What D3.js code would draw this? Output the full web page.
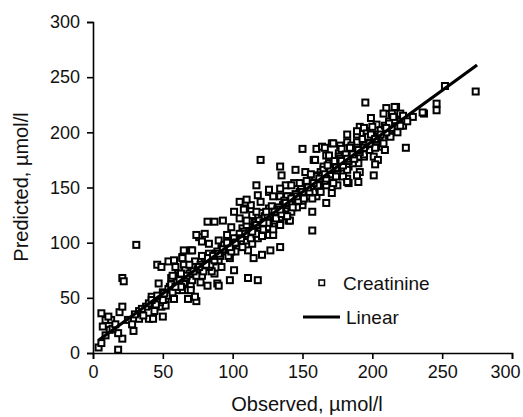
<!DOCTYPE html>
<html>
<head>
<meta charset="utf-8">
<script src="https://d3js.org/d3.v7.min.js"></script>
<style>
  body { margin: 0; background: #fff; }
  text { font-family: "Liberation Sans", Arial, sans-serif; fill: #111; }
</style>
</head>
<body>
<div id="chart"></div>
<script>
// observed vs predicted creatinine, umol/l
var creatinine = [
  [4,5],[6,9],[18,3],[21,13],[18,18],[12,21],[7,24],[9,30],[13,30],[6,36],[19,37],[21,42],
  [21,68],[22,65],[31,98],[29,20],[33,31],[40,31],[43,31],[50,33],[43,43],[42,51],[49,42],
  [52,49],[47,63],[46,80],[54,83],[49,78],[56,68],[55,57],[58,49],[64,57],[65,80],[64,87],
  [70,93],[68,57],[74,47],[77,64],[82,61],[73,72],[76,105],[80,108],[87,72],[89,63],[83,90],
  [61,72],[67,69],[52,43],[68,49],[9,16],[14,22],[16,26],[11,33],
  [117,152],[135,161],[138,152],[144,154],[118,143],[126,146],[134,142],[140,142],[105,137],
  [113,134],[120,137],[126,131],[109,131],[101,128],[105,122],[114,125],[121,127],[132,127],
  [136,128],[140,120],[129,117],[134,96],[127,93],[121,89],[115,86],[111,68],[118,66],[82,119],
  [87,119],[93,120],[99,114],[107,113],[113,110],[118,110],[126,107],[74,107],[78,101],[83,99],
  [90,102],[96,107],[101,101],[104,96],[111,93],[65,93],[71,93],[64,86],[73,83],[86,83],[98,86],
  [92,78],[101,75],[85,74],[98,66],[90,61],[70,61],[62,66],[59,78],[58,84],[73,51],[70,57],
  [120,175],[150,185],[160,185],[164,187],[171,190],[177,188],[182,198],[189,198],[191,205],
  [196,201],[167,179],[176,181],[187,184],[195,190],[158,175],[169,172],[182,172],[190,172],
  [134,169],[145,166],[152,164],[163,164],[175,164],[191,164],[156,158],[171,158],[182,158],
  [190,155],[126,148],[134,149],[142,152],[152,152],[161,149],[167,152],[175,152],[183,154],
  [110,139],[129,142],[139,142],[148,143],[160,142],[171,145],[108,130],[117,128],[128,133],
  [139,131],[150,134],[157,128],[167,136],[113,119],[126,122],[134,123],[141,120],[108,110],
  [120,111],[129,107],[157,111],
  [195,227],[210,222],[217,223],[214,217],[208,217],[199,213],[220,217],[237,217],[229,214],
  [246,226],[246,220],[203,207],[200,205],[212,210],[219,210],[194,204],[189,201],[196,199],
  [204,198],[212,197],[199,193],[189,191],[182,191],[172,190],[207,187],[224,186],[166,186],
  [178,185],[185,184],[195,185],[201,178],[209,184],[159,175],[169,179],[176,178],[194,178],
  [204,175],[165,169],[173,167],[183,169],[202,171],[160,161],[170,160],[179,160],[189,161],
  [201,161],[159,152],[172,154],[182,155],
  [252,242],[274,237],[222,215],[216,223],[216,211],[213,202],[213,196],[236,218],
  [25,30],[28,26],[33,38],[36,34],[38,42],[44,38],[47,50],[50,55],[48,46],[53,52],[55,60],
  [58,62],[60,57],[62,70],[65,64],[66,75],[70,68],[72,78],[75,76],[78,70],[80,82],[83,78],
  [85,86],[88,90],[90,84],[92,95],[95,92],[97,88],[100,98],[102,92],[104,104],[106,100],
  [108,106],[110,102],[112,114],[114,99],[116,118],[118,104],[120,116],[122,112],[124,120],
  [126,114],[128,124],[130,120],[132,130],[134,116],[136,134],[138,125],[140,134],[142,128],
  [144,140],[146,132],[148,146],[150,138],[152,148],[154,142],[156,150],[158,146],[160,156],
  [162,150],[164,160],[166,156],[168,164],[170,162],[172,170],[174,160],[176,172],[178,168],
  [180,176],[182,166],[184,178],[186,172],[188,182],[190,178],[192,186],[194,180],[196,190],
  [198,184],[200,192],[202,186],[205,196],[208,190],[210,200],[214,204],[218,200],[222,206],
  [30,35],[35,40],[40,45],[45,44],[50,48],[54,58],[57,55],[60,64],[63,60],[66,68],[69,72],
  [71,66],[74,70],[77,80],[79,74],[82,86],[84,80],[87,84],[89,92],[91,88],[94,98],[96,94],
  [99,92],[101,104],[103,100],[105,108],[107,96],[110,116],[111,106],[113,104],[115,112],
  [117,108],[119,120],[121,106],[123,124],[125,118],[127,128],[129,112],[131,122],[133,132],
  [135,126],[137,138],[139,124],[141,136],[143,132],[145,144],[147,138],[149,150],[151,140],
  [153,156],[155,146],[157,140],[159,160],[161,152],[163,146],[165,166],[167,158],[169,168],
  [171,166],[173,174],[175,168],[177,176],[179,170],[181,180],[183,174],[185,188],[187,176],
  [189,186],[191,182],[193,194],[195,188],[197,196],[199,198],[203,192],[206,202],[209,206],
  [212,208],[215,214],[220,206],[225,210],
  [42,48],[46,52],[51,54],[56,62],[59,60],[62,66],[67,70],[72,74],[76,78],[81,80],[86,88],
  [90,90],[93,94],[98,96],[102,100],[106,104],[109,108],[114,110],[117,116],[122,118],
  [125,124],[130,128],[134,130],[138,136],[142,140],[146,142],[150,146],[154,150],[158,154],
  [162,158],[166,162],[170,166],[174,168],[178,174],[182,176],[186,180],[190,184],[194,186],
  [198,190],[202,194],[206,198],[210,204],[57,70],[63,72],[69,80],[78,88],[96,100],[110,120],
  [124,128],[148,154],[156,162],[168,170],[184,186]
];

// linear fit end points
var linearFit = [[4, 11.5], [275, 261]];

var xTicks = [0, 50, 100, 150, 200, 250, 300];
var yTicks = [0, 50, 100, 150, 200, 250, 300];

var svgWidth = 523;
var svgHeight = 417;

var margin = {
  top: 22,
  right: 11,
  bottom: 64,
  left: 93
};

var width = svgWidth - margin.left - margin.right;
var height = svgHeight - margin.top - margin.bottom;

var svg = d3.select("#chart")
  .append("svg")
  .attr("width", svgWidth)
  .attr("height", svgHeight);

var chartGroup = svg.append("g")
  .attr("transform", `translate(${margin.left}, ${margin.top})`);

var xScale = d3.scaleLinear()
  .domain([0, 300])
  .range([0, width]);

var yScale = d3.scaleLinear()
  .domain([0, 300])
  .range([height, 0]);

var bottomAxis = d3.axisBottom(xScale)
  .tickValues(xTicks)
  .tickSize(6)
  .tickPadding(6);
var leftAxis = d3.axisLeft(yScale)
  .tickValues(yTicks)
  .tickSize(6)
  .tickPadding(7);

var xAxis = chartGroup.append("g")
  .attr("transform", `translate(0, ${height})`)
  .call(bottomAxis);

var yAxis = chartGroup.append("g")
  .call(leftAxis);

[xAxis, yAxis].forEach(function(ax) {
  ax.selectAll("path, line").attr("stroke", "#000").attr("stroke-width", 1.6);
  ax.selectAll("text")
    .style("font-size", "18px")
    .style("font-family", "'Liberation Sans', Arial, sans-serif")
    .attr("fill", "#111");
});

// last x label sits against the right edge
xAxis.selectAll(".tick text")
  .filter(d => d === 300)
  .attr("text-anchor", "end")
  .attr("x", 8);

// squares
var size = 6;
chartGroup.selectAll("rect.pt")
  .data(creatinine)
  .enter()
  .append("rect")
  .attr("class", "pt")
  .attr("x", d => xScale(d[0]) - size / 2)
  .attr("y", d => yScale(d[1]) - size / 2)
  .attr("width", size)
  .attr("height", size)
  .attr("fill", "#fff")
  .attr("stroke", "#000")
  .attr("stroke-width", 2);

// trend line
var line = d3.line()
  .x(d => xScale(d[0]))
  .y(d => yScale(d[1]));

chartGroup.append("path")
  .datum(linearFit)
  .attr("d", line)
  .attr("fill", "none")
  .attr("stroke", "#000")
  .attr("stroke-width", 3.2);

// axis titles
svg.append("text")
  .attr("x", 307)
  .attr("y", 411)
  .attr("text-anchor", "middle")
  .style("font-size", "20px")
  .text("Observed, µmol/l");

svg.append("text")
  .attr("transform", "translate(28, 187) rotate(-90)")
  .attr("text-anchor", "middle")
  .style("font-size", "20px")
  .text("Predicted, µmol/l");

// legend
var legend = svg.append("g");

legend.append("rect")
  .attr("x", 319)
  .attr("y", 280)
  .attr("width", 5.5)
  .attr("height", 5.5)
  .attr("fill", "#fff")
  .attr("stroke", "#000")
  .attr("stroke-width", 1.5);

legend.append("text")
  .attr("x", 343)
  .attr("y", 283)
  .attr("dy", "0.35em")
  .style("font-size", "19px")
  .text("Creatinine");

legend.append("line")
  .attr("x1", 303)
  .attr("x2", 340)
  .attr("y1", 317)
  .attr("y2", 317)
  .attr("stroke", "#000")
  .attr("stroke-width", 3);

legend.append("text")
  .attr("x", 346)
  .attr("y", 317)
  .attr("dy", "0.35em")
  .style("font-size", "19px")
  .text("Linear");
</script>
</body>
</html>
